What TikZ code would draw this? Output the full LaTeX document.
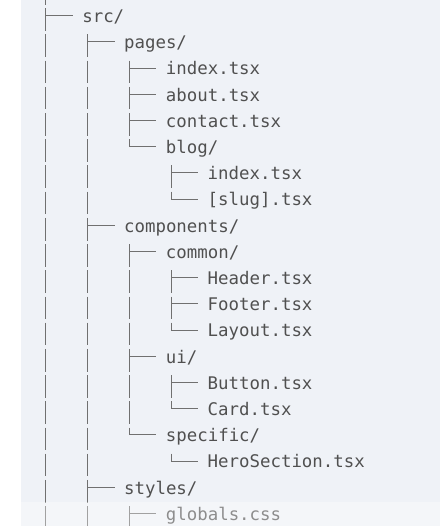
\documentclass[tikz,border=0pt]{standalone}
\usepackage{fontspec}
\setmonofont{DejaVu Sans Mono}
\definecolor{panelbg}{HTML}{EFF2F7}
\definecolor{treeink}{HTML}{505050}
\definecolor{treeline}{HTML}{707070}

\begin{document}
\begin{tikzpicture}[x=41.8pt,y=-26.2pt]
			\tikzstyle{every node} = [anchor=base west,inner sep=0pt,outer sep=0pt,text=treeink,font=\ttfamily\fontsize{17.4}{20}\selectfont];
			\tikzstyle{treepipe} = [draw=treeline,line width=1.1pt,dash pattern=on 22.6pt off 3.6pt];
			\tikzstyle{treebranch} = [draw=treeline,line width=0.9pt];
			\useasboundingbox (-82.3pt,22.5pt) rectangle (357.7pt,-503.5pt);
			\fill[panelbg] (-61.3pt,22.5pt) rectangle (357.7pt,-503.5pt);
			\node (src) at (0,0) {src/};
			\node (pages) at (1,1) {pages/};
			\node (index) at (2,2) {index.tsx};
			\node (about) at (2,3) {about.tsx};
			\node (contact) at (2,4) {contact.tsx};
			\node (blog) at (2,5) {blog/};
			\node (blogindex) at (3,6) {index.tsx};
			\node (slug) at (3,7) {[slug].tsx};
			\node (components) at (1,8) {components/};
			\node (common) at (2,9) {common/};
			\node (header) at (3,10) {Header.tsx};
			\node (footer) at (3,11) {Footer.tsx};
			\node (layout) at (3,12) {Layout.tsx};
			\node (ui) at (2,13) {ui/};
			\node (button) at (3,14) {Button.tsx};
			\node (card) at (3,15) {Card.tsx};
			\node (specific) at (2,16) {specific/};
			\node (hero) at (3,17) {HeroSection.tsx};
			\node (styles) at (1,18) {styles/};
			\node (globals) at (2,19) {globals.css};
			% branch hooks
			\foreach \n in {src,pages,index,about,contact,blog,blogindex,slug,components,common,header,footer,layout,ui,button,card,specific,hero,styles,globals} {
				\coordinate (\n-h) at ([xshift=-36.6pt,yshift=6.8pt]\n.base west);
				\coordinate (\n-s) at ([xshift=5.2pt,yshift=-12pt]\n.base west);
				\draw[treebranch] (\n-h) -- +(27pt,0);
			}
			\coordinate (top) at ([xshift=-36.6pt,yshift=40.4pt]src.base west);
			\coordinate (bottom) at (0,21);
			\draw[treepipe] (top) -- (top |- bottom);
			\draw[treepipe] (src-s) -- (src-s |- bottom);
			\draw[treepipe] (pages-s) -- (pages-s |- blog-h);
			\draw[treepipe] (blog-s) -- (blog-s |- slug-h);
			\draw[treepipe] (components-s) -- (components-s |- specific-h);
			\draw[treepipe] (common-s) -- (common-s |- layout-h);
			\draw[treepipe] (ui-s) -- (ui-s |- card-h);
			\draw[treepipe] (specific-s) -- (specific-s |- hero-h);
			\draw[treepipe] (styles-s) -- (styles-s |- bottom);
			% fade at the cut
			\fill[white,opacity=0.35] (-61.3pt,-479.5pt) rectangle (357.7pt,-503.5pt);
		\end{tikzpicture}
\end{document}
